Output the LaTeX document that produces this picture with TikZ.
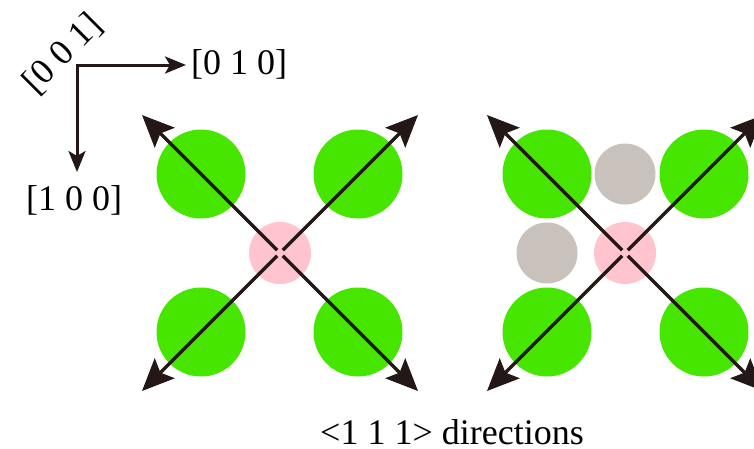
\documentclass[tikz,border=0pt]{standalone}
\usepackage{fontspec}
\setmainfont{Liberation Serif}
\usetikzlibrary{arrows.meta,calc}
\definecolor{atomgreen}{HTML}{46E600}
\definecolor{atompink}{HTML}{FFC4CE}
\definecolor{atomgray}{HTML}{C9C1BB}
\definecolor{inkdark}{HTML}{231815}
\tikzset{
  green atom/.style={circle,fill=atomgreen,inner sep=0pt,minimum size=89pt},
  pink atom/.style={circle,fill=atompink,inner sep=0pt,minimum size=62pt},
  gray atom/.style={circle,fill=atomgray,inner sep=0pt,minimum size=61pt},
  dirarrow/.style={draw=inkdark,line width=3.3pt,-{Stealth[length=32pt,width=28pt,inset=6pt]}},
  axisarrow/.style={draw=inkdark,line width=3pt,-{Stealth[length=21pt,width=17pt,inset=5pt]}},
  lbl/.style={font=\fontsize{36pt}{40pt}\selectfont,text=black,inner sep=0pt}
}
\begin{document}
\begin{tikzpicture}[x=1pt,y=-1pt]
\clip (0,0) rectangle (754,448);
\fill[white] (0,0) rectangle (754,448);
% axes
\coordinate (o) at (77,65);
\coordinate (ax) at (186,65);
\coordinate (ay) at (77,172);
\draw[axisarrow] (ay |- o) ++(0,-1.5) -- (ay);
\draw[axisarrow] (o) ++(-1.5,0) -- (ax);
\node[lbl,anchor=west] (l010) at (191,64) {[0 1 0]};
\node[lbl] (l100) at (74,200) {[1 0 0]};
\node[lbl,rotate=45] (l001) at (63,54) {[0 0 1]};
% left panel
\node[green atom] (g1) at (201,174) {};
\node[green atom] (g2) at (358,174) {};
\node[green atom] (g3) at (201,332) {};
\node[green atom] (g4) at (358,332) {};
\node[pink atom] (p1) at (280,253) {};
\coordinate (t1a) at (142,115);
\coordinate (t1b) at (418,115);
\coordinate (t1c) at (142,391);
\coordinate (t1d) at (418,391);
\foreach \t in {t1a,t1b,t1c,t1d}
  \draw[dirarrow] ($(p1.center)!4pt!(\t)$) -- (\t);
% right panel
\node[green atom] (h1) at (547,174) {};
\node[green atom] (h2) at (704,174) {};
\node[green atom] (h3) at (547,332) {};
\node[green atom] (h4) at (704,332) {};
\node[gray atom] (q1) at (625,174) {};
\node[gray atom] (q2) at (547,253) {};
\node[pink atom] (p2) at (625,253) {};
\coordinate (t2a) at (487,115);
\coordinate (t2b) at (763,115);
\coordinate (t2c) at (487,391);
\coordinate (t2d) at (763,391);
\foreach \t in {t2a,t2b,t2c,t2d}
  \draw[dirarrow] ($(p2.center)!4pt!(\t)$) -- (\t);
% caption
\node[lbl,anchor=base] (cap) at (452,444) {<1 1 1> directions};
\end{tikzpicture}
\end{document}
